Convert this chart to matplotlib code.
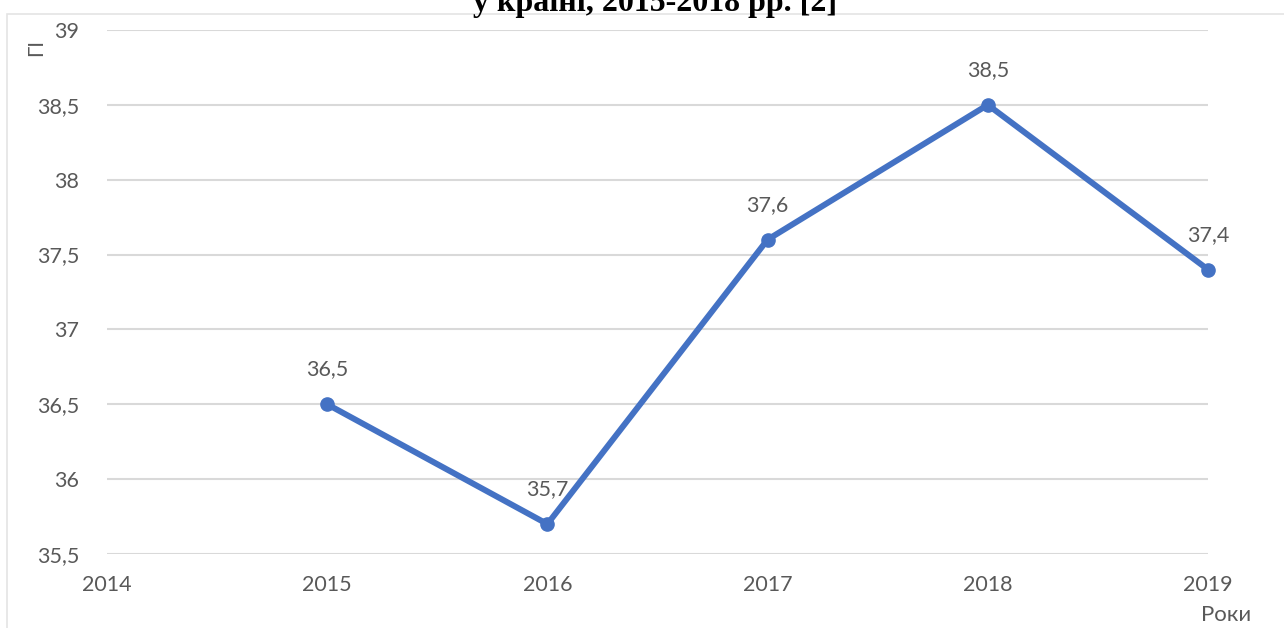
import matplotlib.pyplot as plt
from matplotlib.patches import Rectangle

# data
years = [2015, 2016, 2017, 2018, 2019]
values = [36.5, 35.7, 37.6, 38.5, 37.4]
value_labels = ['36,5', '35,7', '37,6', '38,5', '37,4']
x_ticks = [2014, 2015, 2016, 2017, 2018, 2019]
y_ticks = [35.5, 36, 36.5, 37, 37.5, 38, 38.5, 39]
y_tick_labels = ['35,5', '36', '36,5', '37', '37,5', '38', '38,5', '39']

line_color = '#4472C4'
text_color = '#595959'
grid_color = '#D9D9D9'

plt.rcParams['font.family'] = ['Lato', 'DejaVu Sans']

fig = plt.figure(figsize=(12.84, 6.28), dpi=100)
ax = fig.add_axes([107 / 1284, 1 - 554 / 628, (1208 - 107) / 1284, (554 - 30) / 628])

# light frame around the chart area
fig.patches.append(Rectangle((7 / 1284, -0.01), 1.0, 1 - 14 / 628 + 0.01,
                             transform=fig.transFigure, fill=False,
                             edgecolor='#E4E4E4', linewidth=1.2))

ax.plot(years, values, color=line_color, linewidth=4.3, marker='o',
        markersize=9.5, solid_capstyle='round', zorder=3, clip_on=False)

for x, y, lab in zip(years, values, value_labels):
    ax.annotate(lab, (x, y), xytext=(0, 25), textcoords='offset points',
                ha='center', va='center', fontsize=15.5, color=text_color, zorder=2)

ax.set_xlim(2014, 2019)
ax.set_ylim(35.5, 39)
ax.set_xticks(x_ticks)
ax.set_xticklabels([str(t) for t in x_ticks])
ax.set_yticks(y_ticks)
ax.set_yticklabels(y_tick_labels)
ax.grid(axis='y', color=grid_color, linewidth=1.5)
ax.set_axisbelow(True)
for s in ax.spines.values():
    s.set_visible(False)
ax.tick_params(length=0, labelsize=15.5, labelcolor=text_color)
ax.tick_params(axis='x', pad=15)
ax.tick_params(axis='y', pad=20)

# axis titles placed like in the reference
fig.text(36 / 1284, 1 - 47 / 628, 'ГІ', rotation=90, ha='center', va='center',
         fontsize=15, color=text_color)
fig.text(1226 / 1284, 1 - 615 / 628, 'Роки', ha='center', va='center',
         fontsize=16, color=text_color)

# caption cut off at the top edge, as in the reference
fig.text(655 / 1284, 1 - 11 / 628, 'у країні, 2015-2018 рр. [2]', ha='center',
         va='baseline', fontsize=23, fontweight='bold', family='Liberation Serif')

fig.savefig('out.png', dpi=100, facecolor='white')
